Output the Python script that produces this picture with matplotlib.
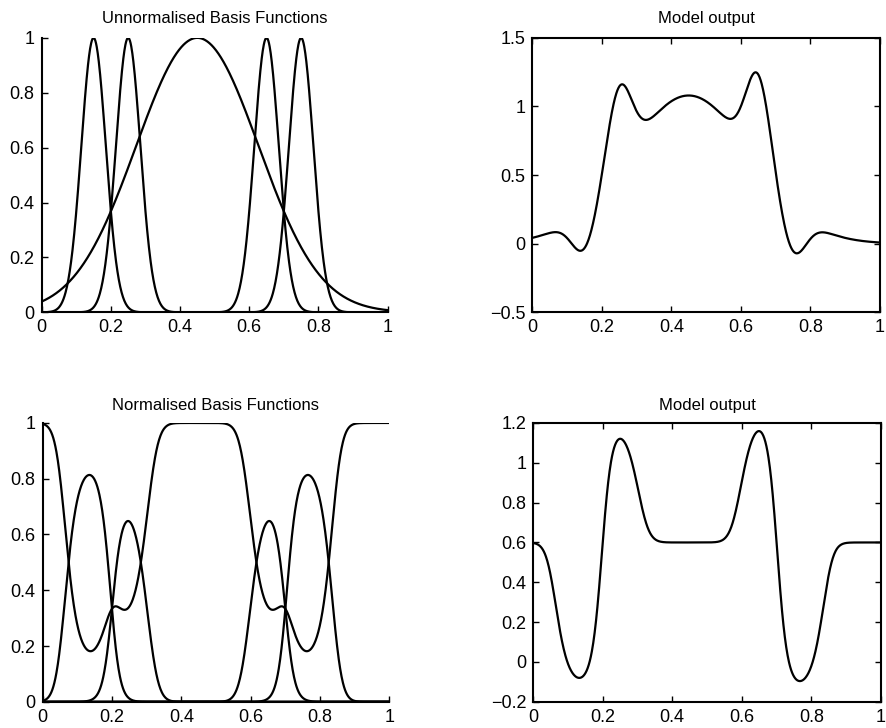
import numpy as np
import matplotlib
matplotlib.use("Agg")
import matplotlib.pyplot as plt

plt.rcParams['font.family'] = ['Liberation Sans', 'DejaVu Sans']

# RBF network: centres, widths and output weights
centres = [0.15, 0.25, 0.45, 0.65, 0.75]
widths = [0.05, 0.05, 0.25, 0.05, 0.05]
weights_unnorm = [-0.30, 0.58, 1.08, 0.67, -0.32]
weights_norm = [-0.24, 1.42, 0.60, 1.48, -0.26]

titles = ["Unnormalised Basis Functions", "Model output",
          "Normalised Basis Functions", "Model output"]
xticks = [0, 0.2, 0.4, 0.6, 0.8, 1]
yticks_basis = [0, 0.2, 0.4, 0.6, 0.8, 1]
yticks_out_top = [-0.5, 0, 0.5, 1, 1.5]
yticks_out_bot = [-0.2, 0, 0.2, 0.4, 0.6, 0.8, 1, 1.2]

x = np.linspace(0, 1, 1001)
basis = np.array([np.exp(-((x - c) / w) ** 2) for c, w in zip(centres, widths)])
basis_norm = basis / basis.sum(axis=0)
out_unnorm = np.dot(weights_unnorm, basis)
out_norm = np.dot(weights_norm, basis_norm)

fig = plt.figure(figsize=(8.87, 7.28), dpi=100)
ax1 = fig.add_axes([0.047, 0.571, 0.390, 0.377])
ax2 = fig.add_axes([0.600, 0.571, 0.392, 0.377])
ax3 = fig.add_axes([0.048, 0.036, 0.391, 0.383])
ax4 = fig.add_axes([0.601, 0.036, 0.392, 0.383])

lw = 1.6
for b in basis:
    ax1.plot(x, b, color='black', lw=lw)
ax2.plot(x, out_unnorm, color='black', lw=lw)
for b in basis_norm:
    ax3.plot(x, b, color='black', lw=lw)
ax4.plot(x, out_norm, color='black', lw=lw)


def fmt(v):
    s = ('%g' % v)
    return s.replace('-', '\u2212')


setup = [(yticks_basis, (0, 1), False, 10.5),
         (yticks_out_top, (-0.5, 1.5), True, 10.5),
         (yticks_basis, (0, 1), False, 9),
         (yticks_out_bot, (-0.2, 1.2), True, 9)]
for ax, title, (yt, yl, box, tpad) in zip([ax1, ax2, ax3, ax4], titles, setup):
    ax.set_xlim(0, 1)
    ax.set_ylim(*yl)
    ax.set_xticks(xticks)
    ax.set_xticklabels([fmt(v) for v in xticks])
    ax.set_yticks(yt)
    ax.set_yticklabels([fmt(v) for v in yt])
    ax.tick_params(direction='in', length=4, width=1, labelsize=13, pad=5,
                   top=box, right=box)
    for sp in ax.spines.values():
        sp.set_linewidth(1.5)
    if not box:
        ax.spines['top'].set_visible(False)
        ax.spines['right'].set_visible(False)
    ax.set_title(title, fontsize=12, pad=tpad)

fig.savefig("out.png", dpi=100)
